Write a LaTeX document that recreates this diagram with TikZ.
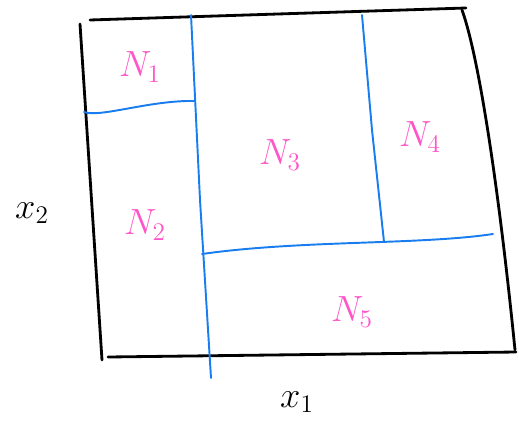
\documentclass[tikz,border=0pt]{standalone}
\usepackage{xcolor}
\definecolor{penpink}{RGB}{255,85,200}
\definecolor{penblue}{RGB}{25,125,240}
\begin{document}
\begin{tikzpicture}[x=0.02cm,y=-0.02cm,
            frame/.style={draw=black, line width=1.6pt, line cap=round},
            cut/.style={draw=penblue, line width=1.1pt, line cap=round},
            region/.style={text=penpink, font=\huge},
            axis/.style={text=black, font=\huge}
            ]
            \useasboundingbox (0,0) rectangle (519,422);
            % outer box
            \coordinate (tl) at (90,20);
            \coordinate (tr) at (466,8);
            \coordinate (lt) at (80,24);
            \coordinate (lb) at (102,360);
            \coordinate (bl) at (108,357);
            \coordinate (br) at (516,352);
            \coordinate (rt) at (462,10);
            \coordinate (rb) at (515,350);
            \draw[frame] (tl) -- (tr);
            \draw[frame] (lt) -- (lb);
            \draw[frame] (bl) -- (br);
            \draw[frame] (rt) .. controls (480,60) and (500,200) .. (rb);

            % splits
            \draw[cut] (191,15) -- (200,200) -- (211,378);
            \draw[cut] (84,112) .. controls (100,118) and (150,100) .. (195,101);
            \draw[cut] (202,254) .. controls (300,240) and (420,245) .. (493,234);
            \draw[cut] (362,15) -- (372,130) -- (384,242);

            % labels
            \node[region] (n1) at (140,67) {$N_1$};
            \node[region] (n2) at (145,225) {$N_2$};
            \node[region] (n3) at (280,155) {$N_3$};
            \node[region] (n4) at (420,137) {$N_4$};
            \node[region] (n5) at (352,312) {$N_5$};
            \node[axis] (x2) at (32,213) {$x_2$};
            \node[axis] (x1) at (297,402) {$x_1$};
\end{tikzpicture}
\end{document}
